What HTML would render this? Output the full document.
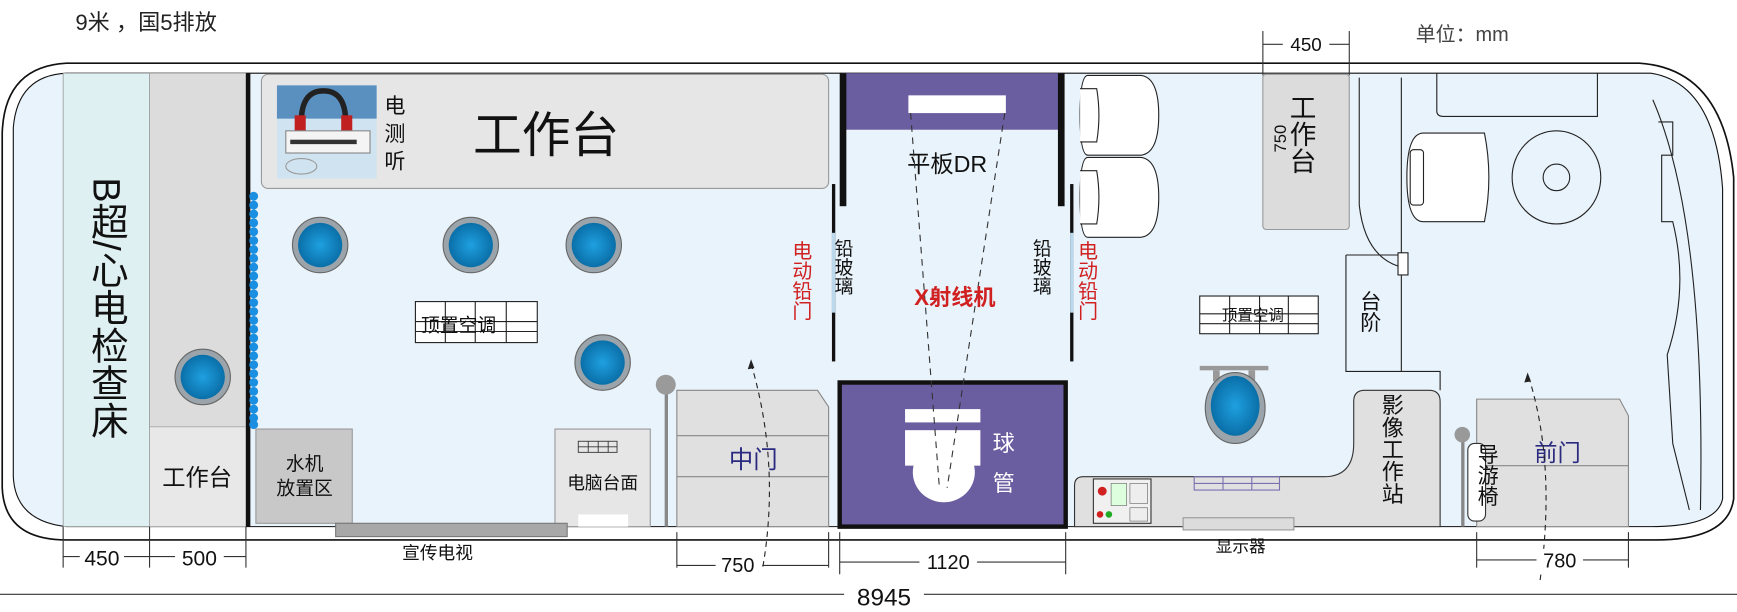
<!DOCTYPE html>
<html><head><meta charset="utf-8"><style>
html,body{margin:0;padding:0;background:#fff;}
svg{display:block;}
text{font-family:"Liberation Sans","Noto Sans CJK SC",sans-serif;}
.v{writing-mode:vertical-rl;text-orientation:mixed;}
</style></head><body>
<svg width="1737" height="612" viewBox="0 0 1568 552" preserveAspectRatio="none" xmlns="http://www.w3.org/2000/svg">
<defs>
<radialGradient id="bl" cx="50%" cy="50%" r="50%"><stop offset="0" stop-color="#1fa0e0"/><stop offset="1" stop-color="#0a6fa8"/></radialGradient>
<g id="lamp"><ellipse cx="0" cy="0" rx="25" ry="25" fill="#9aa4aa" stroke="#666" stroke-width="1"/><ellipse cx="0" cy="0" rx="20" ry="20" fill="url(#bl)"/></g>
</defs>
<text x="68" y="27" font-size="20" fill="#222">9米 ，国5排放</text>
<text x="1278" y="37" font-size="18" fill="#444">单位：mm</text>
<!-- outer body -->
<path d="M60,57 L1480,57 Q1555,62 1565,160 L1565,450 Q1560,487 1495,487 L60,487 Q4,487 2,440 L2,120 Q4,60 60,57 Z" fill="#fff" stroke="#111" stroke-width="1.5"/>
<path d="M60,66 L1490,66 Q1548,75 1555,170 L1555,450 Q1550,475 1490,475 L60,475 Q14,470 12,430 L12,115 Q16,68 60,66 Z" fill="#e9f3fb" stroke="#111" stroke-width="1"/>
<!-- left bed -->
<rect x="57" y="66" width="78" height="409" fill="#dff0f2" stroke="#888" stroke-width="0.6"/>
<text x="96" y="160" font-size="34" class="v" fill="#111">B超/心电检查床</text>
<rect x="135" y="66" width="87" height="319" fill="#dcdcdc" stroke="#999" stroke-width="0.6"/>
<use href="#lamp" x="183" y="340"/>
<rect x="135" y="385" width="87" height="90" fill="#e8e8e8" stroke="#999" stroke-width="0.6"/>
<text x="178" y="438" font-size="21" text-anchor="middle" fill="#111">工作台</text>
<rect x="222" y="66" width="4" height="409" fill="#111"/>
<g fill="#1a8ee0">
<circle cx="229" cy="177" r="4"/><circle cx="229" cy="185" r="4"/><circle cx="229" cy="193" r="4"/><circle cx="229" cy="201" r="4"/><circle cx="229" cy="209" r="4"/><circle cx="229" cy="217" r="4"/><circle cx="229" cy="225" r="4"/><circle cx="229" cy="233" r="4"/><circle cx="229" cy="241" r="4"/><circle cx="229" cy="249" r="4"/><circle cx="229" cy="257" r="4"/><circle cx="229" cy="265" r="4"/><circle cx="229" cy="273" r="4"/><circle cx="229" cy="281" r="4"/><circle cx="229" cy="289" r="4"/><circle cx="229" cy="297" r="4"/><circle cx="229" cy="305" r="4"/><circle cx="229" cy="313" r="4"/><circle cx="229" cy="321" r="4"/><circle cx="229" cy="329" r="4"/><circle cx="229" cy="337" r="4"/><circle cx="229" cy="345" r="4"/><circle cx="229" cy="353" r="4"/><circle cx="229" cy="361" r="4"/><circle cx="229" cy="369" r="4"/><circle cx="229" cy="377" r="4"/><circle cx="229" cy="383" r="4"/>
</g>
<!-- big workbench -->
<rect x="236" y="67" width="512" height="103" rx="6" fill="#e6e6e6" stroke="#999"/>
<text x="493" y="137" font-size="44" text-anchor="middle" fill="#111">工作台</text>
<rect x="250" y="77" width="90" height="84" fill="#cfe3f0"/>
<rect x="250" y="77" width="90" height="30" fill="#5a90c0"/>
<path d="M272,110 Q272,82 292,82 Q312,82 312,110" fill="none" stroke="#222" stroke-width="5"/>
<rect x="266" y="104" width="10" height="14" fill="#c02020"/><rect x="308" y="104" width="10" height="14" fill="#c02020"/>
<rect x="258" y="118" width="76" height="20" fill="#f4f4f4" stroke="#888"/>
<rect x="262" y="126" width="60" height="4" fill="#333"/>
<ellipse cx="272" cy="150" rx="14" ry="7" fill="none" stroke="#999"/>
<text x="347" y="102" font-size="19" fill="#111">电</text>
<text x="347" y="127" font-size="19" fill="#111">测</text>
<text x="347" y="152" font-size="19" fill="#111">听</text>
<use href="#lamp" x="289" y="221"/>
<use href="#lamp" x="425" y="221"/>
<use href="#lamp" x="536" y="221"/>
<use href="#lamp" x="544" y="327"/>
<!-- AC grid left -->
<g stroke="#222" stroke-width="1" fill="#fff">
<rect x="375" y="272" width="110" height="37"/>
<line x1="375" y1="290" x2="485" y2="290"/><line x1="375" y1="299" x2="485" y2="299"/>
<line x1="402" y1="272" x2="402" y2="309"/><line x1="429" y1="272" x2="429" y2="309"/><line x1="457" y1="272" x2="457" y2="309"/>
</g>
<text x="380" y="299" font-size="17" fill="#111">顶置空调</text>
<!-- water machine -->
<rect x="231" y="387" width="87" height="85" fill="#c8c8c8" stroke="#999"/>
<text x="275" y="424" font-size="17" text-anchor="middle" fill="#111">水机</text>
<text x="275" y="446" font-size="17" text-anchor="middle" fill="#111">放置区</text>
<rect x="501" y="387" width="86" height="88" fill="#e6e6e6" stroke="#999"/>
<g stroke="#333" stroke-width="0.8" fill="none"><rect x="522" y="398" width="35" height="10"/><line x1="522" y1="403" x2="557" y2="403"/><line x1="531" y1="398" x2="531" y2="408"/><line x1="540" y1="398" x2="540" y2="408"/><line x1="549" y1="398" x2="549" y2="408"/></g>
<text x="544" y="441" font-size="16" text-anchor="middle" fill="#111">电脑台面</text>
<rect x="522" y="464" width="45" height="11" fill="#fff"/>
<rect x="303" y="472" width="209" height="12" fill="#a8a8a8" stroke="#777"/>
<text x="395" y="504" font-size="16" text-anchor="middle" fill="#111">宣传电视</text>
<!-- pole -->
<rect x="600" y="350" width="3" height="125" fill="#888"/>
<circle cx="601" cy="347" r="9" fill="#9a9a9a"/>
<!-- middle door -->
<path d="M611,352 L738,352 L748,367 L748,475 L611,475 Z" fill="#e0e0e0" stroke="#888"/>
<line x1="611" y1="393" x2="748" y2="393" stroke="#888"/><line x1="611" y1="430" x2="748" y2="430" stroke="#888"/>
<text x="680" y="422" font-size="22" text-anchor="middle" fill="#2a2a80">中门</text>
<path d="M678,328 Q705,420 688,515" fill="none" stroke="#222" stroke-dasharray="5,4"/>
<path d="M678,324 l-3,9 l6,-1 z" fill="#222"/>
<!-- X ray room -->
<rect x="760" y="66" width="200" height="51" fill="#6a5ea0"/>
<rect x="758" y="66" width="6" height="120" fill="#111"/>
<rect x="955" y="66" width="6" height="120" fill="#111"/>
<rect x="820" y="86" width="88" height="16" fill="#fff"/>
<text x="855" y="155" font-size="21" text-anchor="middle" fill="#111">平板DR</text>
<rect x="758" y="345" width="204" height="130" fill="#6a5ea0" stroke="#111" stroke-width="4"/>
<rect x="817" y="369" width="68" height="12" fill="#fff"/>
<rect x="817" y="388" width="68" height="32" fill="#fff"/>
<ellipse cx="852" cy="426" rx="28" ry="27" fill="#fff"/>
<text x="906" y="407" font-size="20" text-anchor="middle" fill="#fff">球</text>
<text x="906" y="443" font-size="20" text-anchor="middle" fill="#fff">管</text>
<line x1="822" y1="102" x2="848" y2="440" stroke="#333" stroke-dasharray="6,5"/>
<line x1="907" y1="102" x2="855" y2="440" stroke="#333" stroke-dasharray="6,5"/>
<text x="862" y="275" font-size="20" font-weight="bold" text-anchor="middle" fill="#d02020">X射线机</text>
<!-- lead glass -->
<rect x="751" y="166" width="3" height="160" fill="#111"/><rect x="751" y="210" width="3" height="72" fill="#bcd8ec"/>
<rect x="966" y="166" width="3" height="160" fill="#111"/><rect x="966" y="210" width="3" height="72" fill="#bcd8ec"/>
<text x="761" y="215" font-size="17" class="v" fill="#111">铅玻璃</text>
<text x="940" y="215" font-size="17" class="v" fill="#111">铅玻璃</text>
<text x="722" y="217" font-size="18" class="v" fill="#d02020">电动铅门</text>
<text x="980" y="217" font-size="18" class="v" fill="#d02020">电动铅门</text>
<!-- seats -->
<g fill="#fff" stroke="#222" stroke-width="1">
<path d="M982,68 L1030,68 Q1046,70 1046,104 Q1046,138 1030,140 L982,140 Q975,140 975,104 Q975,68 982,68 Z"/>
<path d="M982,142 L1030,142 Q1046,144 1046,178 Q1046,212 1030,214 L982,214 Q975,214 975,178 Q975,142 982,142 Z"/>
<path d="M975,80 L990,80 Q994,104 990,128 L975,128"/><path d="M975,154 L990,154 Q994,178 990,202 L975,202"/>
</g>
<!-- right workbench -->
<line x1="1140" y1="28" x2="1140" y2="68" stroke="#333"/><line x1="1218" y1="28" x2="1218" y2="68" stroke="#333"/>
<line x1="1140" y1="40" x2="1218" y2="40" stroke="#333"/>
<rect x="1158" y="30" width="42" height="18" fill="#fff"/>
<text x="1179" y="46" font-size="17" text-anchor="middle" fill="#111">450</text>
<rect x="1140" y="67" width="78" height="140" rx="3" fill="#dcdcdc" stroke="#999"/>
<text transform="translate(1161,125) rotate(-90)" font-size="15" text-anchor="middle" fill="#111">750</text>
<text x="1174" y="85" font-size="24" class="v" fill="#111">工作台</text>
<!-- driver area -->
<g fill="none" stroke="#222" stroke-width="1">
<path d="M1297,66 L1297,100 Q1297,105 1303,105 L1442,105 L1442,66"/>
<path d="M1227,70 L1227,185 Q1232,230 1262,240"/>
<line x1="1265" y1="70" x2="1265" y2="335"/>
<rect x="1262" y="228" width="9" height="20" fill="#fff"/>
<path d="M1215,230 L1262,230 M1215,230 L1215,335 L1300,335 L1300,352"/>
<ellipse cx="1405" cy="160" rx="40" ry="42"/>
<circle cx="1405" cy="160" r="12"/>
<path d="M1492,90 Q1540,200 1535,460"/>
<path d="M1497,110 L1510,110 L1510,140 L1500,140 L1500,200 L1510,200 Q1525,260 1505,320 L1510,400 L1525,460"/>
</g>
<path d="M1285,120 L1340,120 Q1348,160 1340,200 L1285,200 Q1270,200 1270,160 Q1270,120 1285,120 Z" fill="#fff" stroke="#222"/>
<rect x="1273" y="135" width="12" height="50" rx="3" fill="#fff" stroke="#222"/>
<text x="1236" y="262" font-size="19" class="v" fill="#111">台阶</text>
<!-- AC grid right -->
<g stroke="#222" stroke-width="1" fill="#fff">
<rect x="1083" y="267" width="107" height="34"/>
<line x1="1083" y1="283" x2="1190" y2="283"/><line x1="1083" y1="292" x2="1190" y2="292"/>
<line x1="1110" y1="267" x2="1110" y2="301"/><line x1="1137" y1="267" x2="1137" y2="301"/><line x1="1163" y1="267" x2="1163" y2="301"/>
</g>
<text x="1103" y="289" font-size="14" fill="#111">顶置空调</text>
<rect x="1083" y="330" width="62" height="4" fill="#999"/><rect x="1095" y="334" width="6" height="10" fill="#999"/><rect x="1127" y="334" width="6" height="10" fill="#999"/>
<ellipse cx="1115" cy="368" rx="27" ry="32" fill="#9aa4aa" stroke="#666"/><ellipse cx="1115" cy="366" rx="22" ry="27" fill="url(#bl)"/>
<!-- imaging station -->
<path d="M978,430 L1195,430 Q1222,430 1222,400 L1222,362 Q1222,352 1232,352 L1290,352 Q1300,352 1300,362 L1300,475 L970,475 L970,438 Q970,430 978,430 Z" fill="#e0e0e0" stroke="#333"/>
<text x="1256" y="355" font-size="20" class="v" fill="#111">影像工作站</text>
<rect x="987" y="432" width="52" height="40" fill="#f0f0f0" stroke="#333"/>
<circle cx="995" cy="443" r="4" fill="#d02020"/><circle cx="993" cy="464" r="3" fill="#d02020"/><circle cx="1001" cy="464" r="3" fill="#2a2"/>
<rect x="1003" y="436" width="14" height="20" fill="#dfd" stroke="#555" stroke-width="0.5"/><rect x="1020" y="436" width="16" height="18" fill="#eee" stroke="#555" stroke-width="0.5"/><rect x="1020" y="458" width="16" height="12" fill="#eee" stroke="#555" stroke-width="0.5"/>
<g stroke="#7a70b0" stroke-width="1" fill="none"><rect x="1078" y="430" width="77" height="12"/><line x1="1078" y1="436" x2="1155" y2="436"/><line x1="1104" y1="430" x2="1104" y2="442"/><line x1="1130" y1="430" x2="1130" y2="442"/></g>
<rect x="1068" y="467" width="100" height="11" fill="#dcdcdc" stroke="#999"/>
<text x="1120" y="498" font-size="15" text-anchor="middle" fill="#111">显示器</text>
<!-- front door -->
<rect x="1319" y="398" width="3" height="77" fill="#888"/>
<circle cx="1320" cy="392" r="7" fill="#999"/>
<path d="M1333,360 L1462,360 L1470,375 L1470,475 L1333,475 Z" fill="#e0e0e0" stroke="#888"/>
<line x1="1333" y1="420" x2="1470" y2="420" stroke="#888"/>
<rect x="1325" y="400" width="16" height="70" rx="6" fill="#fff" stroke="#333"/>
<text x="1342" y="400" font-size="19" class="v" fill="#111">导游椅</text>
<text x="1406" y="416" font-size="21" text-anchor="middle" fill="#2a2a80">前门</text>
<path d="M1380,340 Q1405,420 1390,525" fill="none" stroke="#222" stroke-dasharray="5,4"/>
<path d="M1379,336 l-3,9 l6,-1 z" fill="#222"/>
<!-- dimensions -->
<g stroke="#333" stroke-width="1">
<line x1="57" y1="475" x2="57" y2="512"/><line x1="135" y1="475" x2="135" y2="512"/><line x1="222" y1="475" x2="222" y2="512"/>
<line x1="57" y1="502" x2="222" y2="502"/>
<line x1="611" y1="480" x2="611" y2="512"/><line x1="748" y1="480" x2="748" y2="512"/><line x1="611" y1="510" x2="748" y2="510"/>
<line x1="758" y1="480" x2="758" y2="518"/><line x1="962" y1="480" x2="962" y2="518"/><line x1="758" y1="507" x2="962" y2="507"/>
<line x1="1333" y1="480" x2="1333" y2="512"/><line x1="1470" y1="480" x2="1470" y2="512"/><line x1="1333" y1="505" x2="1470" y2="505"/>
<line x1="0" y1="536" x2="1568" y2="536"/>
</g>
<rect x="72" y="492" width="40" height="20" fill="#fff"/><text x="92" y="510" font-size="19" text-anchor="middle" fill="#111">450</text>
<rect x="158" y="492" width="44" height="20" fill="#fff"/><text x="180" y="510" font-size="19" text-anchor="middle" fill="#111">500</text>
<rect x="646" y="500" width="42" height="20" fill="#fff"/><text x="666" y="516" font-size="18" text-anchor="middle" fill="#111">750</text>
<rect x="830" y="497" width="52" height="20" fill="#fff"/><text x="856" y="513" font-size="18" text-anchor="middle" fill="#111">1120</text>
<rect x="1387" y="495" width="42" height="20" fill="#fff"/><text x="1408" y="512" font-size="18" text-anchor="middle" fill="#111">780</text>
<rect x="762" y="526" width="72" height="26" fill="#fff"/><text x="798" y="546" font-size="22" text-anchor="middle" fill="#111">8945</text>
</svg>
</body></html>
